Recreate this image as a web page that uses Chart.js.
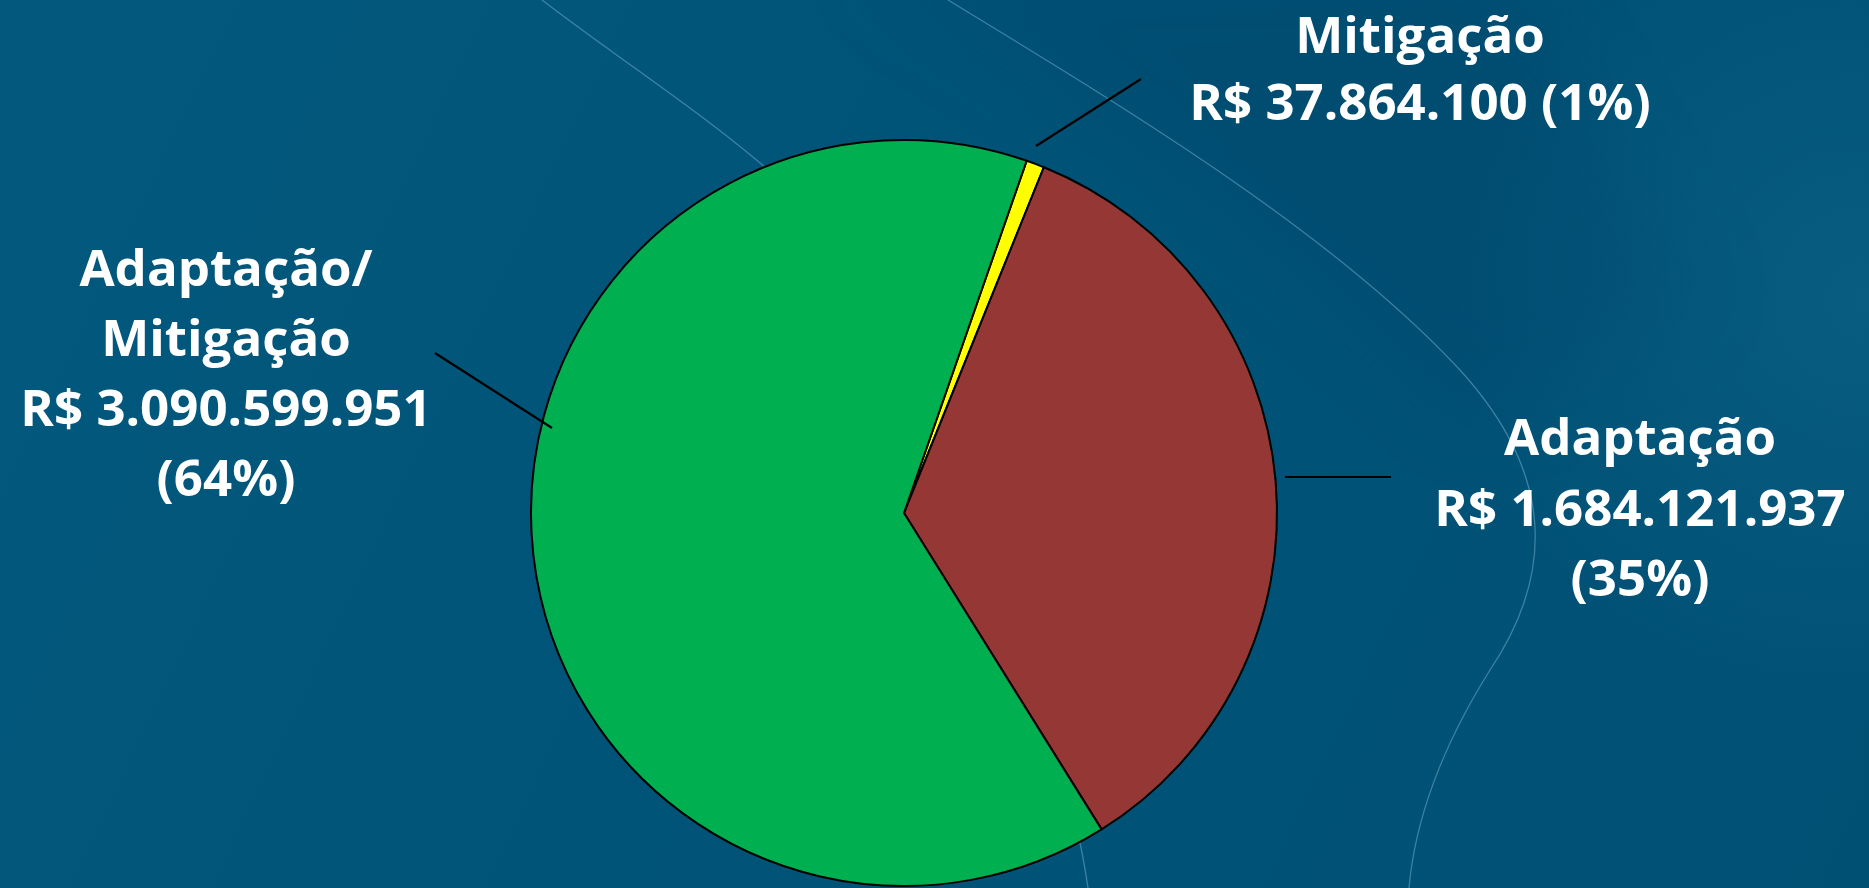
<!DOCTYPE html>
<html>
<head>
<meta charset="utf-8">
<script src="https://cdn.jsdelivr.net/npm/chart.js@4.4.1/dist/chart.umd.min.js"></script>
<style>
  html, body { margin: 0; padding: 0; background: #01567a; overflow: hidden; }
  #wrap { width: 1869px; height: 888px; position: relative; }
</style>
</head>
<body>
<div id="wrap"><canvas id="c" width="1869" height="888"></canvas></div>
<script>
// ---- data ----
const categories = ['Mitigação', 'Adaptação', 'Adaptação/Mitigação'];
const values = [37864100, 1684121937, 3090599951];
const sliceColors = ['#ffff00', '#953735', '#00b050'];
// how each label's text is split into lines (name parts)
const nameLines = [['Mitigação'], ['Adaptação'], ['Adaptação/', 'Mitigação']];
// whether the value and the percentage share one line
const valuePctSameLine = [true, false, false];

// ---- label layout (relative to pie centre) ----
const labelLayout = [
  { cx: 516, y0: -460, lh: 67, lead: [[132, -367], [237, -434]] },
  { cx: 736, y0: -58,  lh: 70.5, lead: [[381, -36], [487, -36]] },
  { cx: -678, y0: -227, lh: 70, lead: [[-469, -160], [-352, -85]] }
];

function fmtBR(n) {
  return String(n).replace(/\B(?=(\d{3})+(?!\d))/g, '.');
}

const total = values.reduce((a, b) => a + b, 0);

function buildLines(i) {
  const pct = Math.round(values[i] / total * 100);
  const val = 'R$ ' + fmtBR(values[i]);
  const lines = nameLines[i].slice();
  if (valuePctSameLine[i]) lines.push(val + ' (' + pct + '%)');
  else { lines.push(val); lines.push('(' + pct + '%)'); }
  return lines;
}

const bgPlugin = {
  id: 'bg',
  beforeDraw(chart) {
    const ctx = chart.ctx;
    const W = chart.width, H = chart.height;
    ctx.save();
    ctx.fillStyle = '#01567a';
    ctx.fillRect(0, 0, W, H);
    let g = ctx.createLinearGradient(0, 0, W, H);
    g.addColorStop(0, 'rgba(3,92,128,0.6)');
    g.addColorStop(0.5, 'rgba(0,80,117,0.5)');
    g.addColorStop(1, 'rgba(0,76,112,0.6)');
    ctx.fillStyle = g;
    ctx.fillRect(0, 0, W, H);
    // soft darker band from top centre
    ctx.save();
    ctx.filter = 'blur(40px)';
    ctx.beginPath();
    ctx.moveTo(860, -40);
    ctx.bezierCurveTo(1020, 60, 1250, 200, 1480, 420);
    ctx.lineTo(1700, 300);
    ctx.lineTo(1500, -40);
    ctx.closePath();
    ctx.fillStyle = 'rgba(0,60,95,0.22)';
    ctx.fill();
    ctx.restore();
    // lighter top-right corner
    let g3 = ctx.createRadialGradient(1869, 300, 10, 1869, 300, 420);
    g3.addColorStop(0, 'rgba(20,110,145,0.4)');
    g3.addColorStop(1, 'rgba(20,110,145,0)');
    ctx.fillStyle = g3;
    ctx.fillRect(1300, 0, 569, 720);
    // thin light curves
    ctx.strokeStyle = 'rgba(110,170,200,0.55)';
    ctx.lineWidth = 1.3;
    ctx.beginPath();
    ctx.moveTo(948, 0);
    ctx.bezierCurveTo(1120, 105, 1330, 230, 1460, 370);
    ctx.bezierCurveTo(1560, 480, 1550, 580, 1490, 670);
    ctx.bezierCurveTo(1440, 750, 1415, 820, 1409, 888);
    ctx.stroke();
    ctx.beginPath();
    ctx.moveTo(542, 0);
    ctx.bezierCurveTo(620, 60, 700, 110, 780, 180);
    ctx.stroke();
    ctx.beginPath();
    ctx.moveTo(1040, 700);
    ctx.bezierCurveTo(1060, 760, 1080, 830, 1088, 888);
    ctx.stroke();
    ctx.restore();
  }
};

const labelPlugin = {
  id: 'labels',
  afterDatasetsDraw(chart) {
    const ctx = chart.ctx;
    const meta = chart.getDatasetMeta(0);
    const cx = meta.data[0].x, cy = meta.data[0].y;
    ctx.save();
    meta.data.forEach((arc, i) => {
      const L = labelLayout[i];
      ctx.strokeStyle = '#000';
      ctx.lineWidth = 2.2;
      ctx.beginPath();
      ctx.moveTo(cx + L.lead[0][0], cy + L.lead[0][1]);
      ctx.lineTo(cx + L.lead[1][0], cy + L.lead[1][1]);
      ctx.stroke();
      ctx.fillStyle = '#ffffff';
      ctx.font = "bold 51px 'Open Sans'";
      ctx.textAlign = 'center';
      ctx.textBaseline = 'alphabetic';
      buildLines(i).forEach((t, k) => {
        ctx.fillText(t, cx + L.cx, cy + L.y0 + k * L.lh);
      });
    });
    ctx.restore();
  }
};

new Chart(document.getElementById('c'), {
  type: 'pie',
  data: {
    labels: categories,
    datasets: [{
      data: values,
      backgroundColor: sliceColors,
      borderColor: '#000000',
      borderWidth: 2
    }]
  },
  options: {
    responsive: false,
    animation: false,
    rotation: 19.2,
    layout: { padding: { left: 530, right: 591, top: 139, bottom: 1 } },
    plugins: {
      legend: { display: false },
      tooltip: { enabled: false }
    }
  },
  plugins: [bgPlugin, labelPlugin]
});
</script>
</body>
</html>
